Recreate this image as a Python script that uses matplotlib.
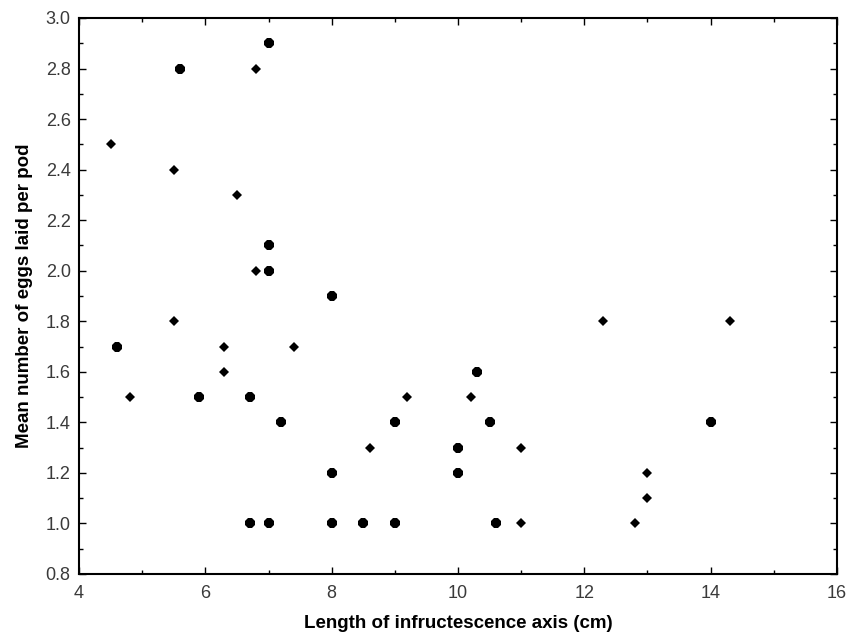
import matplotlib
matplotlib.use("Agg")
import matplotlib.pyplot as plt
from matplotlib.ticker import MultipleLocator
import numpy as np

# infructescence axis length (cm), mean eggs per pod, number of overlapping observations
length_cm = [4.5, 5.6, 6.8, 7.0, 5.5, 6.5, 7.0, 6.8, 7.0, 8.0,
             5.5, 4.6, 4.8, 6.3, 6.3, 7.4, 5.9, 6.7, 7.2, 8.0,
             6.7, 7.0, 8.0,
             12.3, 14.3, 10.3, 9.2, 10.2, 9.0, 10.5, 14.0, 8.6, 10.0,
             11.0, 10.0, 13.0, 13.0, 8.5, 9.0, 10.6, 11.0, 12.8]
eggs_per_pod = [2.5, 2.8, 2.8, 2.9, 2.4, 2.3, 2.1, 2.0, 2.0, 1.9,
                1.8, 1.7, 1.5, 1.7, 1.6, 1.7, 1.5, 1.5, 1.4, 1.2,
                1.0, 1.0, 1.0,
                1.8, 1.8, 1.6, 1.5, 1.5, 1.4, 1.4, 1.4, 1.3, 1.3,
                1.3, 1.2, 1.2, 1.1, 1.0, 1.0, 1.0, 1.0, 1.0]
n_obs = [1, 2, 1, 2, 1, 1, 2, 1, 2, 2,
         1, 2, 1, 1, 1, 1, 2, 2, 3, 2,
         2, 2, 2,
         1, 1, 2, 1, 1, 3, 2, 3, 1, 2,
         1, 2, 1, 1, 2, 2, 2, 1, 1]

x = np.array(length_cm)
y = np.array(eggs_per_pod)
n = np.array(n_obs)

fig = plt.figure(figsize=(8.53, 6.32), dpi=100)
ax = fig.add_axes([79 / 853, 58 / 632, 758 / 853, 556 / 632])

# single observations as small diamonds, overlapping ones as bigger blobs
single = n == 1
ax.plot(x[single], y[single], linestyle="none", marker="D", markersize=5.2,
        color="black", markeredgewidth=0)
double = n == 2
ax.plot(x[double], y[double], linestyle="none", marker="8", markersize=7.2,
        color="black", markeredgewidth=0)
triple = n >= 3
ax.plot(x[triple], y[triple], linestyle="none", marker="8", markersize=8.2,
        color="black", markeredgewidth=0)

ax.set_xlim(4, 16)
ax.set_ylim(0.8, 3.0)
ax.xaxis.set_major_locator(MultipleLocator(2))
ax.xaxis.set_minor_locator(MultipleLocator(1))
ax.yaxis.set_major_locator(MultipleLocator(0.2))
ax.yaxis.set_minor_locator(MultipleLocator(0.1))
ax.yaxis.set_major_formatter(plt.FormatStrFormatter("%.1f"))

ax.tick_params(which="both", direction="in", top=True, right=True, width=1, color="black")
ax.tick_params(which="major", length=5)
ax.tick_params(which="minor", length=3)
ax.tick_params(axis="x", which="major", pad=8, labelsize=13, labelcolor="#3a3a3a")
ax.tick_params(axis="y", which="major", pad=6, labelsize=13, labelcolor="#3a3a3a")
for lbl in ax.get_xticklabels() + ax.get_yticklabels():
    lbl.set_fontfamily("Liberation Sans")

for s in ax.spines.values():
    s.set_linewidth(1.5)

ax.set_xlabel("Length of infructescence axis (cm)", fontsize=13.5, fontweight="bold",
              family="Liberation Sans", labelpad=9)
ax.set_ylabel("Mean number of eggs laid per pod", fontsize=13.5, fontweight="bold",
              family="Liberation Sans", labelpad=9)

fig.savefig("out.png", dpi=100)
